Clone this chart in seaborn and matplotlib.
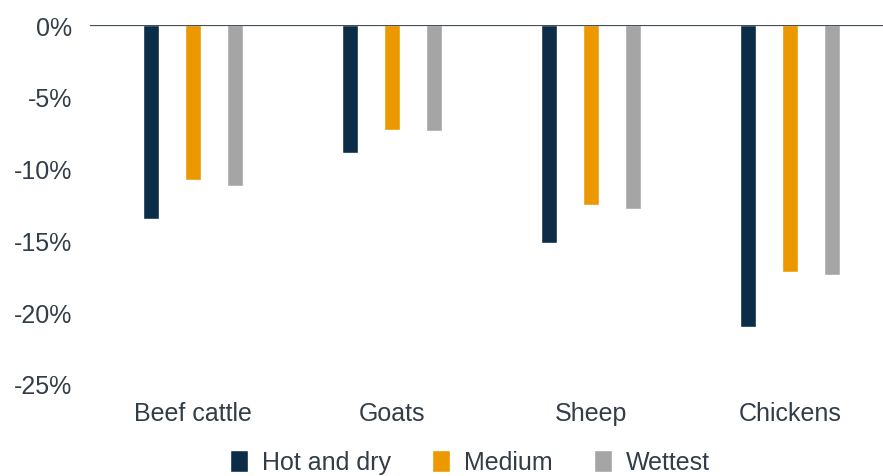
import matplotlib
matplotlib.use("Agg")
import matplotlib.pyplot as plt
import seaborn as sns
import pandas as pd

categories = ["Beef cattle", "Goats", "Sheep", "Chickens"]
scenarios = ["Hot and dry", "Medium", "Wettest"]
hot_and_dry = [-13.5, -8.9, -15.2, -21.0]
medium = [-10.8, -7.3, -12.5, -17.2]
wettest = [-11.2, -7.4, -12.8, -17.4]
y_ticks = [0, -5, -10, -15, -20, -25]
colors = ["#0b2d48", "#ec9800", "#a5a5a5"]

df = pd.DataFrame({
    "Livestock": categories * 3,
    "Scenario": [s for s in scenarios for _ in categories],
    "Change": hot_and_dry + medium + wettest,
})

sns.set_theme(style="white")
plt.rcParams["font.family"] = ["Liberation Sans", "DejaVu Sans"]
text_color = "#333d47"

fig = plt.figure(figsize=(8.83, 4.77), dpi=100)
ax = fig.add_axes([0.102, 0.193, 0.905, 0.752])

sns.barplot(data=df, x="Livestock", y="Change", hue="Scenario",
            order=categories, hue_order=scenarios, palette=colors,
            width=0.634, gap=0.62, saturation=1, ax=ax, legend=True)

ax.set_ylim(-25, 0)
ax.set_xlim(-0.52, 3.5)
ax.set_yticks(y_ticks)
ax.set_yticklabels([f"{t}%" for t in y_ticks])
ax.tick_params(axis="y", length=0, pad=13, labelsize=18, labelcolor=text_color)
ax.tick_params(axis="x", length=0, pad=12, labelsize=18, labelcolor=text_color)
ax.set_xlabel("")
ax.set_ylabel("")
for s in ax.spines.values():
    s.set_visible(False)
ax.axhline(0, color="#46505a", lw=1.6, zorder=5)

handles, labels = ax.get_legend_handles_labels()
ax.get_legend().remove()
fig.legend(handles, labels, loc="center", bbox_to_anchor=(0.532, 0.029),
           ncol=3, frameon=False, fontsize=18, labelcolor=text_color,
           handlelength=0.72, handleheight=0.95, handletextpad=0.56,
           columnspacing=1.64, borderpad=0)

fig.savefig("out.png", dpi=100)
